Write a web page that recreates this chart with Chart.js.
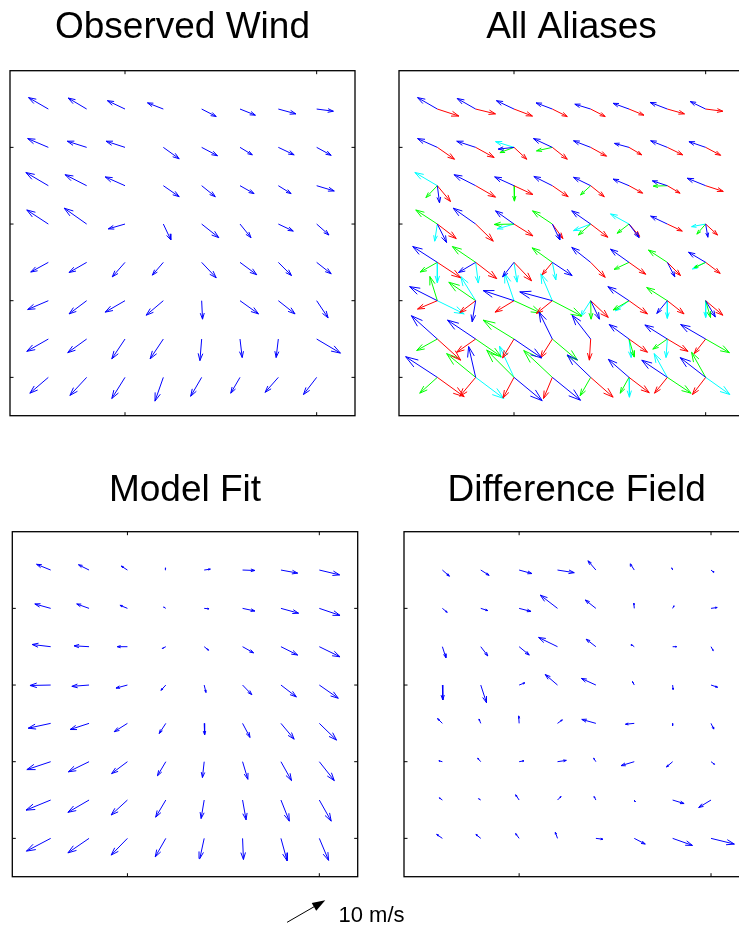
<!DOCTYPE html>
<html>
<head>
<meta charset="utf-8">
<title>Wind field retrieval</title>
<script src="https://cdn.jsdelivr.net/npm/chart.js@4.4.1/dist/chart.umd.min.js"></script>
<style>
  html, body { margin: 0; padding: 0; background: #fff; width: 739px; height: 926px; overflow: hidden; }
  canvas { position: absolute; }
</style>
</head>
<body>
<canvas id="obs"  width="370" height="430" style="left:0px;top:0px"></canvas>
<canvas id="alias" width="380" height="430" style="left:380px;top:0px"></canvas>
<canvas id="diff" width="370" height="430" style="left:390px;top:460px"></canvas>
<canvas id="fit"  width="430" height="466" style="left:0px;top:460px"></canvas>
<script>
// Grid of wind vector cells (x to the east, y to the north), listed from the top row down
const colX = [1, 2, 3, 4, 5, 6, 7, 8];
const rowY = [8, 7, 6, 5, 4, 3, 2, 1];
const xTicks = [3, 8];
const yTicks = [1, 3, 5, 7];

// Observed wind, u / v components in m/s
const obsU = [
  [-4.5, -4.2, -4.0, -3.6,  3.3,  3.5,  4.0,  3.8],
  [-4.7, -4.4, -4.3,  3.6,  3.6,  2.8,  3.6,  3.3],
  [-5.1, -4.9, -4.5,  3.6,  3.1,  3.2,  2.9,  4.0],
  [-4.9, -5.1, -3.8,  1.7,  3.9,  2.5,  3.4,  2.8],
  [-4.0, -4.0, -2.9, -2.5,  3.3,  3.8,  3.0,  3.3],
  [-4.7, -4.0, -4.5, -3.9,  0.2,  4.2,  3.8,  2.6],
  [-4.9, -4.3, -3.0, -3.0, -0.4,  0.5, -0.5,  5.4],
  [-4.2, -3.8, -3.0, -1.9, -2.5, -2.1, -3.0, -3.0]
];
const obsV = [
  [ 2.6,  2.5,  1.9,  1.4, -1.7, -1.4, -1.1, -0.5],
  [ 2.0,  1.4,  1.4, -2.6, -1.9, -1.7, -1.7, -1.8],
  [ 3.0,  2.5,  2.0, -2.5, -2.5, -1.8, -1.8, -1.2],
  [ 3.2,  3.6, -1.1, -3.6, -3.1, -3.1, -1.6, -2.5],
  [-2.2, -2.3, -3.3, -2.9, -3.5, -2.8, -3.0, -2.6],
  [-2.0, -3.0, -2.6, -3.3, -4.2, -3.0, -3.0, -3.9],
  [-2.8, -3.1, -4.5, -4.5, -4.9, -4.2, -4.2, -3.2],
  [-3.6, -4.1, -4.8, -5.4, -4.3, -3.6, -3.4, -3.9]
];

// Ambiguity solutions per cell, [u, v] in m/s (null where a rank has no solution)
const aliasBlue = [
  [[-4.5, 2.6], [-4.2, 2.4], [-4.0, 1.9], [-3.7, 1.4], [-3.6, 1.1], [-3.6, 1.3], [-3.9, 1.5], [-3.5, 1.7]],
  [[-4.5, 2.0], [-4.3, 1.4], [-3.6, -0.4], [-4.3, 2.0], [-3.9, 1.5], [-3.3, 0.9], [-3.8, 1.5], [-3.8, 1.3]],
  [[0.5, -3.9], [-4.9, 2.5], [-4.4, 2.0], [-4.2, 2.1], [-3.9, 1.9], [-3.6, 1.5], [-3.4, 1.1], [-4.2, 1.7]],
  [[2.1, -4.2], [-5.1, 3.6], [-4.2, 3.0], [1.7, -3.6], [-4.3, 3.0], [2.3, -3.1], [-3.8, 1.8], [0.5, -3.0]],
  [[-5.6, 3.6], [-3.9, -2.3], [-2.6, -3.3], [4.5, -3.0], [-4.3, 3.4], [-4.2, 3.0], [1.7, -3.3], [-3.9, 2.3]],
  [[-6.3, 3.2], [-0.8, -4.8], [-7.0, 2.3], [-7.4, 2.0], [2.0, -4.2], [-4.8, 3.2], [-2.4, -2.9], [2.2, -3.7]],
  [[-5.9, 5.3], [-6.4, 4.3], [6.3, -4.3], [-3.0, 6.1], [-4.2, 5.4], [-4.5, 3.3], [-5.1, 3.2], [-5.7, 3.3]],
  [[-7.2, 4.7], [-1.6, 7.0], [6.4, -5.3], [6.4, -5.2], [-5.3, 5.1], [-4.7, 4.1], [-5.8, 3.9], [-5.8, 4.5]]
];
const aliasRed = [
  [[4.9, -1.6], [4.5, -1.1], [4.2, -1.6], [3.4, -1.7], [3.3, -1.7], [3.4, -1.4], [3.9, -1.1], [3.9, -0.5]],
  [[3.9, -2.7], [4.2, -2.3], [2.9, -2.7], [3.4, -2.7], [3.6, -2.0], [2.9, -1.7], [3.5, -1.7], [3.4, -1.8]],
  [[3.0, -3.6], [4.5, -2.6], [4.3, -2.0], [3.6, -2.5], [3.1, -2.5], [3.1, -1.7], [2.9, -1.7], [4.0, -1.3]],
  [[4.3, -3.3], [4.0, -3.9], [4.3, -2.7], [2.4, -3.3], [3.9, -3.0], [2.4, -2.8], [3.4, -1.6], [2.7, -2.5]],
  [[5.3, -3.5], [4.8, -3.7], [4.0, -4.2], [-2.3, -2.8], [3.3, -3.4], [3.8, -2.7], [3.0, -3.0], [3.3, -2.5]],
  [[-4.5, -1.9], [-3.6, -2.7], [-4.3, -2.6], [-3.6, -2.9], [4.0, -3.8], [4.2, -3.0], [3.8, -3.0], [3.9, -3.3]],
  [[5.3, -4.8], [-4.3, -3.0], [-2.6, -4.3], [-2.7, -4.3], [-0.3, -4.8], [4.2, -3.0], [4.7, -2.8], [-2.6, -3.3]],
  [[6.1, -4.4], [-3.6, -4.3], [-2.5, -4.7], [-2.0, -4.8], [5.1, -4.5], [4.6, -3.5], [-2.9, -3.6], [-3.0, -3.9]]
];
const aliasGreen = [
  [null, null, null, null, null, null, null, null],
  [null, null, [-3.2, -1.2], [-3.6, -0.8], null, null, null, null],
  [[-2.6, -2.7], null, [0.1, -3.5], null, [-2.3, -2.1], null, [-3.2, -0.1], null],
  [[-4.9, 3.2], null, [-4.5, -0.1], [-4.5, 3.0], [-2.8, -2.5], [-2.7, -2.1], null, [-2.0, -2.3]],
  [[-3.9, -2.2], [-5.3, 3.6], null, [-4.6, 3.3], null, [-3.4, -1.6], [-4.3, 2.8], [-2.6, -1.2]],
  [[-1.7, 5.5], [-6.1, 4.2], [6.1, -2.8], [6.7, -3.5], [0.1, -4.2], [-3.6, -2.1], [-4.7, 3.0], [1.1, -3.8]],
  [[-4.7, -2.6], [5.8, -4.0], [-7.0, 4.3], [5.7, -4.8], null, [1.2, -4.1], [-3.3, -2.3], [5.4, -3.1]],
  [[-4.0, -3.6], [-6.6, 5.4], [-6.2, 6.2], [-6.5, 6.1], [-2.4, -4.2], [-2.0, -3.6], [5.4, -3.6], [-3.2, 5.7]]
];
const aliasCyan = [
  [null, null, null, null, null, null, null, null],
  [null, null, [-4.2, 1.3], null, null, null, null, null],
  [[-5.1, 3.0], null, null, null, null, null, null, null],
  [[-0.6, -3.9], null, [-3.8, -1.1], null, [-3.9, -1.5], [-4.2, 2.3], null, [-3.2, -0.6]],
  [[0.0, -4.6], [0.6, -4.7], [0.7, -4.5], [0.8, -4.0], null, null, null, [-3.0, -1.5]],
  [[6.1, -3.0], [-3.4, 5.5], [-2.1, 6.2], [-2.6, 6.1], [-2.3, -3.6], [-3.1, -2.3], [0.0, -4.0], [0.0, -3.8]],
  [null, null, null, null, null, [0.5, -4.2], [-0.3, -4.2], null],
  [null, [6.4, -4.8], [-3.3, 7.1], null, null, [0.1, -4.5], [-3.0, 5.4], [5.5, -3.9]]
];

// Model fit, u / v in m/s
const fitU = [
  [-3.2, -2.4, -1.4, -0.1,  1.4,  2.8,  3.8,  4.6],
  [-3.6, -2.8, -1.7, -0.5,  1.1,  2.8,  4.0,  4.7],
  [-4.2, -3.4, -2.3, -0.8,  1.0,  2.5,  3.8,  4.7],
  [-4.7, -3.9, -2.6, -1.1,  0.4,  2.1,  3.5,  4.3],
  [-5.1, -4.3, -3.0, -1.5,  0.1,  1.7,  3.0,  3.9],
  [-5.4, -4.7, -3.6, -1.9, -0.4,  1.2,  2.4,  3.4],
  [-5.6, -4.8, -3.7, -2.3, -0.7,  0.8,  1.9,  2.7],
  [-5.5, -4.8, -3.7, -2.4, -1.0,  0.2,  1.4,  2.1]
];
const fitV = [
  [ 1.3,  1.2,  0.9,  0.5,  0.2, -0.1, -0.7, -1.1],
  [ 1.0,  1.0,  0.7,  0.3, -0.1, -0.6, -1.1, -1.6],
  [ 0.5,  0.2,  0.0, -0.4, -0.8, -1.4, -1.9, -2.3],
  [-0.1, -0.3, -0.7, -1.2, -1.7, -2.2, -2.7, -3.0],
  [-1.1, -1.4, -1.9, -2.3, -2.6, -3.2, -3.6, -3.8],
  [-1.8, -2.3, -2.7, -3.2, -3.6, -4.0, -4.3, -4.3],
  [-2.3, -2.8, -3.4, -3.9, -4.2, -4.5, -4.8, -4.8],
  [-2.9, -3.3, -3.8, -4.2, -4.6, -4.8, -5.1, -5.0]
];

// Difference field, u / v in m/s
const diffU = [
  [ 1.6,  1.9,  2.9,  3.8, -1.8, -0.9, -0.2,  0.6],
  [ 1.1,  1.6,  2.7, -3.9, -2.4, -0.1,  0.3,  1.4],
  [ 0.8,  1.6,  2.3, -4.3, -2.2, -0.7,  0.9,  0.5],
  [ 0.1,  1.3,  1.3, -2.8, -3.3, -0.4,  0.1,  1.5],
  [-1.1, -0.4, -0.1,  1.1, -3.2, -2.0,  0.0,  0.6],
  [-0.8, -0.7,  1.1,  2.0, -0.5, -3.0, -1.4,  0.8],
  [-0.7, -0.5, -0.8,  0.8, -0.4,  0.2,  2.6, -2.8],
  [-1.3, -1.1, -0.8, -0.5,  1.6,  2.5,  4.5,  5.3]
];
const diffV = [
  [-1.4, -1.2, -0.8, -0.6,  2.1,  1.4,  0.5, -0.5],
  [-0.9, -0.5, -0.7,  3.0,  1.9,  1.2,  0.6,  0.2],
  [-2.5, -2.1, -1.9,  2.1,  1.7,  0.5,  0.0, -0.9],
  [-3.4, -4.0,  0.5,  2.4,  1.5,  0.8, -1.0, -0.5],
  [ 1.1,  1.0,  1.7,  0.8,  0.9, -0.2, -0.5, -1.3],
  [ 0.2,  0.8,  0.2,  0.3,  0.8, -0.9, -1.2, -0.6],
  [ 0.5,  0.3,  1.2,  0.8,  0.8, -0.4, -0.8, -1.7],
  [ 0.9,  0.9,  1.1,  1.4, -0.2, -1.3, -1.6, -1.3]
];

// Reference vector
const keySpeed = 10;       // m/s
const keyAngle = 30;       // degrees from east
const keyLabel = '10 m/s';

// ---- drawing ----
const SCALE = 0.1148;      // grid units per m/s
const HEAD_LEN = 0.33, HEAD_WID = 0.33;   // quiver-style open heads
const FONT = "'Liberation Sans', Arial, Helvetica, sans-serif";
Chart.defaults.font.family = FONT;

function zipUV(U, V) {
  return U.map((row, r) => row.map((u, c) => [u, V[r][c]]));
}

// Shafts and heads as line segments separated by gaps
function quiverData(uv) {
  const pts = [];
  rowY.forEach((y, r) => colX.forEach((x, c) => {
    const e = uv[r][c];
    if (!e) return;
    const U = e[0] * SCALE, V = e[1] * SCALE;
    const tx = x + U, ty = y + V;
    pts.push({x: x, y: y}, {x: tx, y: ty}, {x: tx, y: null});
    pts.push({x: tx - HEAD_LEN * (U + HEAD_WID * V), y: ty - HEAD_LEN * (V - HEAD_WID * U)});
    pts.push({x: tx, y: ty});
    pts.push({x: tx - HEAD_LEN * (U - HEAD_WID * V), y: ty - HEAD_LEN * (V + HEAD_WID * U)});
    pts.push({x: tx, y: null});
  }));
  return pts;
}

function layer(label, uv, color) {
  return {
    label: label,
    data: quiverData(uv),
    showLine: true,
    spanGaps: false,
    borderColor: color,
    backgroundColor: color,
    borderWidth: 1,
    borderCapStyle: 'butt',
    borderJoinStyle: 'miter',
    pointRadius: 0,
    pointHoverRadius: 0,
    tension: 0
  };
}

const axesBox = {
  id: 'axesBox',
  afterDraw(chart) {
    const {ctx, chartArea: a, scales: {x, y}} = chart;
    const L = 3.5;
    ctx.save();
    ctx.strokeStyle = '#000';
    ctx.lineWidth = 1.3;
    ctx.strokeRect(a.left, a.top, a.right - a.left, a.bottom - a.top);
    ctx.lineWidth = 1;
    ctx.beginPath();
    xTicks.forEach(v => {
      const px = x.getPixelForValue(v);
      ctx.moveTo(px, a.bottom); ctx.lineTo(px, a.bottom - L);
      ctx.moveTo(px, a.top); ctx.lineTo(px, a.top + L);
    });
    yTicks.forEach(v => {
      const py = y.getPixelForValue(v);
      ctx.moveTo(a.left, py); ctx.lineTo(a.left + L, py);
      ctx.moveTo(a.right, py); ctx.lineTo(a.right - L, py);
    });
    ctx.stroke();
    ctx.restore();
  }
};

// Reference vector below the model-fit panel
const keyPos = {x: 7.16, y: -1.19};
const scaleKey = {
  id: 'scaleKey',
  afterDraw(chart) {
    const {ctx, scales: {x, y}} = chart;
    const ang = keyAngle * Math.PI / 180;
    const x0 = x.getPixelForValue(keyPos.x), y0 = y.getPixelForValue(keyPos.y);
    const x1 = x.getPixelForValue(keyPos.x + keySpeed * Math.cos(ang) * SCALE);
    const y1 = y.getPixelForValue(keyPos.y + keySpeed * Math.sin(ang) * SCALE);
    const dx = x1 - x0, dy = y1 - y0, len = Math.hypot(dx, dy);
    const ux = dx / len, uy = dy / len;
    const hl = 13, hw = 4.5;
    ctx.save();
    ctx.strokeStyle = '#000';
    ctx.fillStyle = '#000';
    ctx.lineWidth = 1;
    ctx.beginPath();
    ctx.moveTo(x0, y0);
    ctx.lineTo(x1 - ux * hl * 0.8, y1 - uy * hl * 0.8);
    ctx.stroke();
    ctx.beginPath();
    ctx.moveTo(x1, y1);
    ctx.lineTo(x1 - ux * hl - uy * hw, y1 - uy * hl + ux * hw);
    ctx.lineTo(x1 - ux * hl + uy * hw, y1 - uy * hl - ux * hw);
    ctx.closePath();
    ctx.fill();
    ctx.font = '22px ' + FONT;
    ctx.textBaseline = 'alphabetic';
    ctx.textAlign = 'left';
    ctx.fillText(keyLabel, x1 + 13.3, y0);
    ctx.restore();
  }
};

function panel(id, title, datasets, pad, titlePad, extraPlugins) {
  return new Chart(document.getElementById(id), {
    type: 'scatter',
    data: {datasets: datasets},
    options: {
      responsive: false,
      animation: false,
      devicePixelRatio: 1,
      events: [],
      layout: {padding: pad},
      plugins: {
        legend: {display: false},
        tooltip: {enabled: false},
        title: {
          display: true,
          text: title,
          color: '#000',
          font: {family: FONT, size: 37, weight: 'normal', lineHeight: 1.2},
          padding: titlePad
        }
      },
      scales: {
        x: {type: 'linear', min: 0, max: 9, display: false},
        y: {type: 'linear', min: 0, max: 9, display: false}
      }
    },
    plugins: [axesBox].concat(extraPlugins || [])
  });
}

const BLUE = '#0000ff';
const TOP_TITLE = {top: 6.0, bottom: 20.3};
const LOW_TITLE = {top: 8.7, bottom: 18.6};

panel('obs', 'Observed Wind',
  [layer('Observed', zipUV(obsU, obsV), BLUE)],
  {left: 10, right: 15, top: 0, bottom: 14.3}, TOP_TITLE);

panel('alias', 'All Aliases',
  [layer('Rank 1', aliasBlue, '#0000ff'),
   layer('Rank 2', aliasRed, '#ff0000'),
   layer('Rank 3', aliasGreen, '#00ff00'),
   layer('Rank 4', aliasCyan, '#00ffff')],
  {left: 19, right: 16, top: 0, bottom: 14.3}, TOP_TITLE);

panel('diff', 'Difference Field',
  [layer('Difference', zipUV(diffU, diffV), BLUE)],
  {left: 14, right: 10.6, top: 0, bottom: 13.3}, LOW_TITLE);

panel('fit', 'Model Fit',
  [layer('Model', zipUV(fitU, fitV), BLUE)],
  {left: 12.3, right: 72.3, top: 0, bottom: 49.3}, LOW_TITLE, [scaleKey]);
</script>
</body>
</html>
